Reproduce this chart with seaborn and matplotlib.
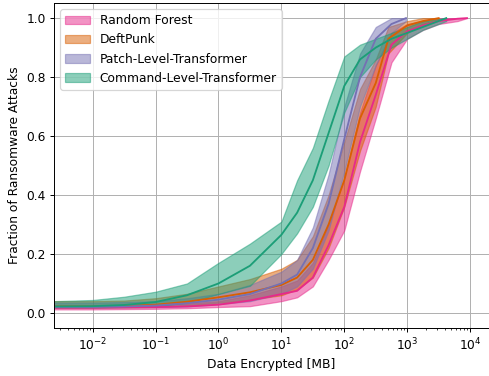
import numpy as np
import pandas as pd
import matplotlib
matplotlib.use("Agg")
import matplotlib.pyplot as plt
import seaborn as sns

# Cumulative fraction of attacks detected vs. data encrypted before detection.
# Positions are given as log10(MB); each model has mean, lower and upper band.
models = ["Random Forest", "DeftPunk", "Patch-Level-Transformer", "Command-Level-Transformer"]
colors = ["#e7298a", "#d95f02", "#7570b3", "#1b9e77"]

rf_logmb = [-2.62, -2, -1.5, -1, -0.5, 0, 0.5, 1, 1.25, 1.5, 1.75, 2, 2.25, 2.5, 2.75, 3.0, 3.25, 3.5, 3.8, 3.95]
rf_mean = [0.018, 0.018, 0.019, 0.02, 0.022, 0.028, 0.042, 0.064, 0.075, 0.12, 0.23, 0.36, 0.58, 0.74, 0.91, 0.955, 0.975, 0.99, 0.998, 1.0]
rf_low = [0.012, 0.012, 0.013, 0.014, 0.016, 0.02, 0.023, 0.04, 0.053, 0.09, 0.18, 0.28, 0.48, 0.66, 0.85, 0.93, 0.96, 0.98, 0.99, 1.0]
rf_high = [0.025, 0.025, 0.026, 0.028, 0.032, 0.04, 0.06, 0.09, 0.11, 0.17, 0.30, 0.46, 0.68, 0.84, 0.95, 0.98, 0.99, 1.0, 1.0, 1.0]

dp_logmb = [-2.62, -2, -1.5, -1, -0.5, 0, 0.5, 1, 1.25, 1.5, 1.75, 2, 2.25, 2.5, 2.7, 3.0, 3.25, 3.5]
dp_mean = [0.022, 0.022, 0.024, 0.028, 0.038, 0.053, 0.07, 0.095, 0.12, 0.18, 0.30, 0.45, 0.66, 0.78, 0.93, 0.975, 0.99, 1.0]
dp_low = [0.018, 0.018, 0.019, 0.02, 0.025, 0.035, 0.045, 0.06, 0.08, 0.12, 0.22, 0.36, 0.55, 0.70, 0.88, 0.95, 0.98, 0.995]
dp_high = [0.04, 0.04, 0.042, 0.05, 0.065, 0.09, 0.115, 0.15, 0.18, 0.26, 0.40, 0.58, 0.76, 0.86, 0.97, 0.99, 1.0, 1.0]

pl_logmb = [-2.62, -2, -1.5, -1, -0.5, 0, 0.5, 1, 1.25, 1.5, 1.75, 2, 2.25, 2.5, 2.75, 2.98]
pl_mean = [0.02, 0.02, 0.022, 0.025, 0.033, 0.045, 0.064, 0.10, 0.13, 0.22, 0.37, 0.59, 0.80, 0.93, 0.98, 1.0]
pl_low = [0.018, 0.018, 0.019, 0.02, 0.022, 0.03, 0.04, 0.065, 0.09, 0.15, 0.28, 0.48, 0.70, 0.84, 0.95, 0.99]
pl_high = [0.035, 0.035, 0.037, 0.04, 0.05, 0.065, 0.095, 0.14, 0.18, 0.29, 0.47, 0.70, 0.88, 0.97, 1.0, 1.0]

cl_logmb = [-2.62, -2, -1.5, -1, -0.5, 0, 0.5, 1, 1.25, 1.5, 1.75, 2, 2.25, 2.5, 2.75, 3, 3.25, 3.62]
cl_mean = [0.022, 0.023, 0.027, 0.037, 0.06, 0.10, 0.16, 0.265, 0.34, 0.45, 0.61, 0.77, 0.86, 0.90, 0.93, 0.95, 0.97, 1.0]
cl_low = [0.019, 0.019, 0.021, 0.023, 0.035, 0.064, 0.092, 0.20, 0.27, 0.36, 0.50, 0.68, 0.80, 0.86, 0.90, 0.93, 0.96, 0.99]
cl_high = [0.040, 0.044, 0.055, 0.072, 0.10, 0.17, 0.235, 0.31, 0.45, 0.56, 0.72, 0.87, 0.91, 0.93, 0.95, 0.97, 0.99, 1.0]

series = [
    (rf_logmb, rf_mean, rf_low, rf_high),
    (dp_logmb, dp_mean, dp_low, dp_high),
    (pl_logmb, pl_mean, pl_low, pl_high),
    (cl_logmb, cl_mean, cl_low, cl_high),
]

DPI = 88
fig = plt.figure(figsize=(489 / DPI, 376 / DPI), dpi=DPI)
ax = fig.add_axes([0.111, 0.1285, 0.889, 0.8625])

band_handles = []
for name, color, (logmb, mean, low, high) in zip(models, colors, series):
    mb = 10.0 ** np.asarray(logmb)
    band = ax.fill_between(mb, low, high, color=color, alpha=0.5, label=name)
    band_handles.append(band)
    df = pd.DataFrame({"mb": mb, "frac": mean})
    sns.lineplot(data=df, x="mb", y="frac", color=color, linewidth=1.5, ax=ax)

ax.set_xscale("log")
ax.set_xlim(10 ** -2.61, 10 ** 4.30)
ax.set_ylim(-0.05, 1.05)
ax.grid(True, which="major", color="#b0b0b0", linewidth=0.8)
ax.set_axisbelow(True)
ax.set_xlabel("Data Encrypted [MB]")
ax.set_ylabel("Fraction of Ransomware Attacks")
ax.legend(handles=band_handles, labels=models, loc="upper left", fontsize=10)

fig.savefig("out.png", dpi=DPI)
